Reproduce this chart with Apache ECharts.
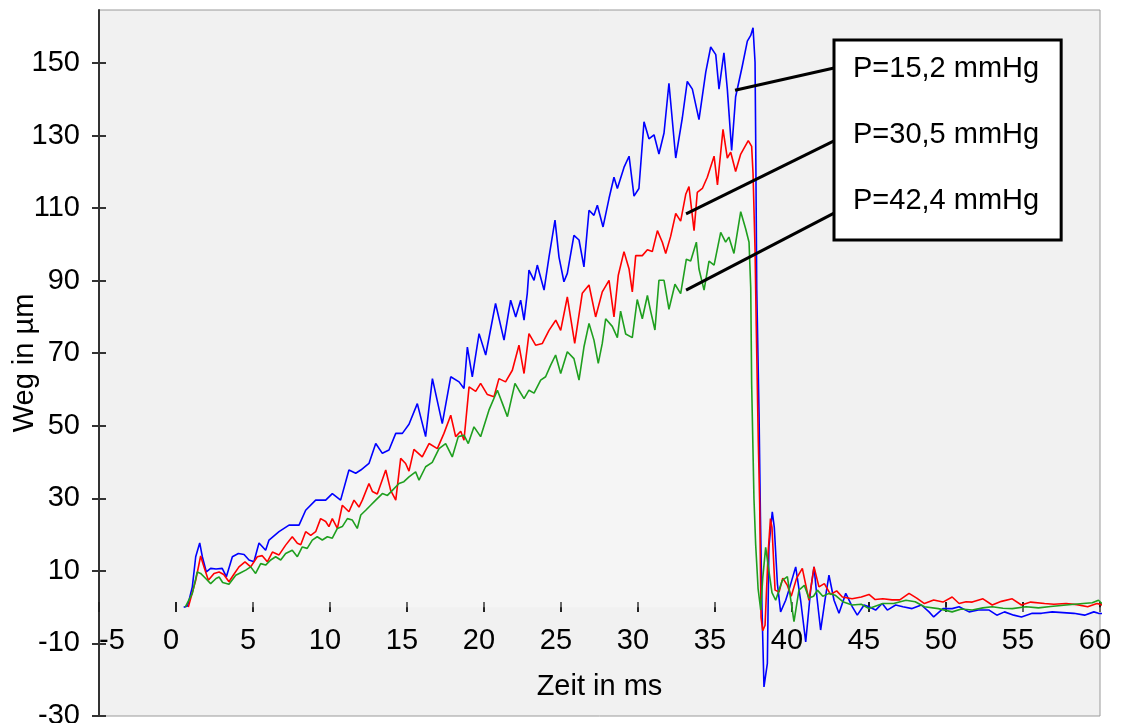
<!DOCTYPE html>
<html>
<head>
<meta charset="utf-8">
<script src="https://cdn.jsdelivr.net/npm/echarts@6/dist/echarts.min.js"></script>
<style>
  html, body { margin: 0; padding: 0; background: #fff; }
  #chart { width: 1121px; height: 723px; }
</style>
</head>
<body>
<div id="chart"></div>
<script>
// Legend names
const names = ['P=15,2 mmHg', 'P=30,5 mmHg', 'P=42,4 mmHg'];
const yTicks = [-30, -10, 10, 30, 50, 70, 90, 110, 130, 150];

// P=15,2 mmHg (blue)
const tBlue = [0.5, 0.75, 1.06, 1.28, 1.54, 1.71, 1.97, 2.25, 2.6, 3.0, 3.27, 3.66, 4.05, 4.42, 4.74, 5.06, 5.39, 5.82, 6.04, 6.69,
  7.34, 7.99, 8.42, 9.07, 9.72, 10.15, 10.69, 11.23, 11.67, 12.0, 12.53, 12.97, 13.4, 13.83, 14.27, 14.7, 15.13, 15.67, 16.21, 16.65,
  17.29, 17.84, 18.38, 18.7, 18.92, 19.24, 19.68, 20.11, 20.75, 21.3, 21.73, 22.06, 22.38, 22.6, 22.81, 22.92, 23.25, 23.46, 23.9, 24.22,
  24.61, 24.87, 25.19, 25.41, 25.84, 26.17, 26.49, 26.82, 27.14, 27.36, 27.73, 28.12, 28.44, 28.66, 29.09, 29.42, 29.74, 30.06, 30.39, 30.71,
  31.04, 31.36, 31.69, 32.01, 32.45, 32.88, 33.2, 33.53, 33.96, 34.4, 34.72, 35.05, 35.26, 35.58, 35.8, 36.08, 36.34, 36.77, 37.1, 37.32,
  37.47, 37.6, 37.64, 37.71, 37.86, 37.95, 38.05, 38.18, 38.4, 38.5, 38.72, 38.85, 39.05, 39.26, 39.59, 39.8, 40.24, 40.56, 40.89, 41.21,
  41.43, 41.64, 41.86, 42.14, 42.4, 42.73, 43.05, 43.49, 43.92, 44.24, 44.68, 45.0, 45.43, 45.86, 46.19, 46.73, 47.2, 47.8, 48.4, 48.9,
  49.2, 49.8, 50.4, 50.85, 51.5, 52.1, 52.8, 53.3, 53.8, 54.4, 54.9, 55.6, 56.2, 56.9, 57.6, 58.3, 59.0, 59.6, 59.9, 60.5];
const wBlue = [0, 0.3, 5.6, 13.9, 17.7, 13.9, 9.7, 10.7, 10.5, 10.7, 8.4, 13.9, 14.8, 14.5, 13.0, 12.5, 17.7, 15.7, 18.5, 20.8,
  22.6, 22.6, 26.7, 29.5, 29.5, 31.3, 29.5, 37.8, 36.9, 37.8, 39.6, 45.1, 42.4, 43.3, 47.9, 47.9, 50.4, 56.1, 47.0, 63.0,
  50.6, 63.5, 62.1, 60.3, 71.7, 63.5, 75.4, 69.5, 83.7, 73.6, 84.6, 80.0, 84.6, 79.1, 86.5, 92.9, 90.1, 94.3, 87.4, 96.5,
  106.7, 96.5, 89.7, 92.0, 102.5, 101.2, 93.8, 109.4, 108.0, 110.8, 104.8, 112.7, 118.5, 115.4, 121.2, 124.3, 113.3, 115.4, 133.8, 129.1,
  130.2, 124.9, 130.7, 144.4, 123.8, 134.9, 144.9, 142.8, 134.4, 147.5, 154.4, 152.3, 142.8, 152.8, 142.8, 125.9, 140.7, 149.1, 156.0, 157.6,
  159.7, 150.2, 130.2, 88, 53.1, 25, 0, -22, -15.5, 16.6, 26.3, 22, 6.5, -1.3, 1.9, 4.7, 11.1, 1.9, -9.6, 4.7,
  11.1, 1.9, -6.3, 1.9, 8.8, 1.9, -1.7, 3.8, 0.1, -2.2, 0.6, 0.1, -0.8, 1.0, -0.8, 0.6, 0.1, -0.4, 0.6, -1.3,
  -2.7, -0.4, -0.4, 0.1, -1.3, -0.8, -0.8, -2.2, -1.3, -2.2, -2.7, -1.7, -1.7, -1.3, -1.5, -1.7, -2.2, -1.3, -1.7, -1.8];

// P=30,5 mmHg (red)
const tRed = [0.8, 0.84, 1.28, 1.6, 1.82, 2.1, 2.47, 2.8, 3.1, 3.44, 3.75, 4.09, 4.48, 4.85, 5.28, 5.6, 5.93, 6.26, 6.69, 7.12,
  7.55, 7.88, 8.1, 8.42, 8.75, 9.07, 9.39, 9.72, 9.93, 10.15, 10.48, 10.8, 11.23, 11.56, 11.88, 12.1, 12.53, 12.75, 13.07, 13.62,
  13.94, 14.27, 14.59, 14.91, 15.13, 15.45, 15.99, 16.43, 16.97, 17.4, 17.84, 18.16, 18.49, 18.7, 19.03, 19.46, 19.78, 20.22, 20.65, 20.97,
  21.4, 21.84, 22.27, 22.6, 22.92, 23.35, 23.79, 24.22, 24.66, 24.98, 25.41, 25.89, 26.38, 26.82, 27.25, 27.68, 28.12, 28.44, 28.72, 29.09,
  29.42, 29.63, 29.85, 30.28, 30.61, 30.93, 31.26, 31.58, 31.8, 32.12, 32.45, 32.77, 33.1, 33.31, 33.64, 33.85, 34.18, 34.5, 34.94, 35.16,
  35.52, 35.8, 36.02, 36.34, 36.67, 37.16, 37.38, 37.47, 37.6, 37.68, 37.81, 37.9, 37.99, 38.1, 38.25, 38.45, 38.6, 38.7, 38.9, 39.16,
  39.4, 39.7, 39.95, 40.3, 40.67, 41.1, 41.43, 41.75, 42.1, 42.5, 42.9, 43.27, 43.9, 44.5, 45.0, 45.4, 45.9, 46.5, 47.0, 47.6,
  48.1, 48.6, 49.2, 49.8, 50.4, 50.85, 51.3, 51.7, 52.4, 53.0, 53.6, 54.3, 54.9, 55.5, 56.4, 57.0, 57.8, 58.5, 59.2, 59.8, 60.1, 60.5];
const wRed = [0, 0.5, 7.4, 14.1, 11.1, 7.4, 9.3, 9.7, 9.0, 7.0, 9.0, 11.1, 12.5, 11.1, 13.9, 14.2, 12.5, 15.2, 14.4, 17.1,
  19.4, 17.6, 17.2, 20.8, 19.8, 20.8, 24.4, 23.6, 22.2, 24.4, 21.7, 28.1, 26.3, 29.5, 27.6, 29.5, 34.1, 31.9, 31.2, 37.8,
  32.2, 29.5, 41.0, 39.6, 37.5, 43.5, 41.4, 45.1, 43.7, 47.9, 52.9, 47.0, 48.5, 46.0, 60.7, 59.5, 61.7, 58.6, 58.0, 63.0,
  62.1, 65.3, 72.2, 64.4, 75.4, 72.2, 72.7, 76.3, 79.1, 76.3, 85.5, 72.7, 86.5, 88.8, 80.0, 86.9, 90.1, 80.0, 91.5, 98.0,
  93.2, 86.9, 96.9, 96.9, 98.5, 98.0, 103.8, 100.6, 97.5, 102.2, 108.5, 106.4, 113.8, 115.9, 103.8, 114.3, 115.4, 118.5, 124.3, 116.4,
  131.7, 123.8, 125.4, 120.1, 124.9, 128.6, 127.0, 119.6, 98.5, 77.4, 45.8, 28.9, -2.8, -6.5, -5, 15, 24.4, 22, 4.7, 4.2,
  8, 6, 3.0, 8, 10.7, 1.9, 11.1, 5.6, 6.5, 3.5, 4.5, 2.8, 2.3, 2.8, 3.5, 2.1, 2.3, 2.0, 2.0, 3.8,
  2.5, 1.0, 2.0, 1.4, 2.8, 1.0, 1.5, 1.4, 2.3, 0.6, 1.6, 2.3, 0.6, 1.4, 1.0, 0.8, 1.0, 0.7, 0.1, 1.0, 0.7, -0.5];

// P=42,4 mmHg (green)
const tGreen = [0.6, 0.63, 1.06, 1.38, 1.6, 1.93, 2.25, 2.6, 2.8, 3.03, 3.44, 3.88, 4.2, 4.53, 4.85, 5.17, 5.5, 5.82, 6.15, 6.47,
  6.8, 7.12, 7.55, 7.88, 8.2, 8.52, 8.85, 9.17, 9.5, 9.83, 10.15, 10.48, 10.8, 11.13, 11.45, 11.77, 12.0, 12.32, 12.64, 12.97,
  13.4, 13.73, 14.05, 14.48, 14.8, 15.13, 15.56, 15.78, 16.21, 16.64, 17.08, 17.51, 17.94, 18.33, 18.7, 18.98, 19.35, 19.78, 20.32, 20.87,
  21.2, 21.52, 22.01, 22.27, 22.6, 22.92, 23.25, 23.68, 24.0, 24.33, 24.65, 24.98, 25.41, 25.84, 26.17, 26.49, 26.82, 27.14, 27.42, 27.68,
  27.9, 28.33, 28.66, 28.87, 29.2, 29.63, 29.95, 30.28, 30.61, 30.82, 31.1, 31.36, 31.69, 32.01, 32.4, 32.77, 33.14, 33.42, 33.79, 33.96,
  34.29, 34.61, 34.94, 35.37, 35.69, 35.9, 36.23, 36.67, 36.99, 37.21, 37.32, 37.38, 37.53, 37.64, 37.8, 37.97, 38.1, 38.29, 38.5, 38.7,
  38.94, 39.37, 39.7, 40.13, 40.45, 40.8, 41.1, 41.4, 41.65, 42.0, 42.4, 42.8, 43.3, 43.9, 44.5, 45.0, 45.9, 46.6, 47.4, 48.0,
  48.6, 49.5, 50.4, 51.0, 51.7, 52.4, 53.0, 53.7, 54.3, 55.2, 56.0, 56.8, 57.8, 58.9, 59.5, 59.9, 60.5];
const wGreen = [0, 0.4, 3.8, 9.7, 9.3, 7.9, 6.5, 7.9, 8.3, 6.8, 6.3, 8.8, 9.5, 10.2, 11.1, 9.3, 12.0, 11.6, 13.0, 13.9,
  13.0, 14.8, 15.7, 13.9, 16.6, 16.2, 18.5, 19.4, 18.5, 19.4, 19.0, 21.7, 22.2, 24.4, 24.0, 21.7, 25.4, 26.7, 28.1, 29.5,
  31.3, 30.8, 32.2, 34.1, 34.6, 35.9, 37.3, 35.0, 38.7, 39.9, 43.7, 45.1, 41.4, 47.0, 47.4, 45.1, 49.7, 47.0, 54.3, 59.8,
  56.1, 52.5, 61.7, 59.8, 57.5, 59.8, 59.0, 62.6, 63.5, 66.7, 69.5, 64.4, 70.4, 68.5, 62.6, 71.7, 78.2, 73.6, 67.2, 72.7,
  79.5, 77.4, 74.3, 81.6, 75.3, 74.3, 84.8, 79.5, 85.9, 81.6, 76.4, 90.1, 90.1, 82.1, 89.0, 86.4, 95.9, 95.4, 100.6, 93.2,
  87.4, 95.4, 94.3, 103.3, 100.6, 102.0, 97.5, 109.0, 104.3, 100.6, 88, 61.6, 29.9, 17.3, 5, -0.8, 8, 16.5, 10, 4,
  1.9, 7.4, 8.4, -4.0, 4.7, 6, 2.5, 3.0, 4.7, 3.0, 3.8, 3.3, 1.5, 0.6, 0.8, -0.4, 1.0, 1.0, 1.9, 1.5,
  0.1, -0.4, -1.3, -0.5, -0.8, -0.2, 0.1, -0.3, -0.4, 0.1, -0.2, 0.2, 0.6, 1.0, 1.2, 1.9, -0.4];

// leader lines from the legend box to the curves (data coords)
const leaderFrom = [[42.73, 148.6], [42.73, 128.5], [42.73, 108.6]];
const leaderTo = [[36.3, 142.5], [33.12, 108.4], [33.12, 87.4]];

const colors = ['#0000ff', '#ff0000', '#1f9f1f'];
const font = "'Liberation Sans', Arial, sans-serif";
const fs = 29;

const zip = (xs, ys) => xs.map((x, i) => [x, ys[i]]);
const seriesData = [zip(tBlue, wBlue), zip(tRed, wRed), zip(tGreen, wGreen)];

const chart = echarts.init(document.getElementById('chart'));

// plot box: y -30..164.6 over 706px, so y=0 sits 109px above the bottom edge
const zeroFromBottom = 109;
const zeroFromTop = 597;

const option = {
    animation: false,
    textStyle: {fontFamily: font},
    grid: {
        left: 99,
        right: 21,
        top: 10,
        bottom: 7,
        containLabel: false,
        outerBoundsMode: 'none',
        show: true,
        backgroundColor: '#f1f1f1',
        borderColor: '#9a9a9a',
        borderWidth: 1
    },
    legend: {
        data: names,
        orient: 'vertical',
        left: 834,
        top: 40,
        icon: 'none',
        itemWidth: 0,
        itemHeight: 30,
        itemGap: 36,
        padding: [14, 22, 24, 14],
        backgroundColor: '#fff',
        borderColor: '#000',
        borderWidth: 3,
        selectedMode: false,
        textStyle: {fontSize: fs, color: '#000', fontFamily: font, lineHeight: 30}
    },
    xAxis: [{
        type: 'value',
        min: -5,
        max: 60,
        interval: 5,
        position: 'bottom',
        offset: -zeroFromBottom,
        name: 'Zeit in ms',
        nameLocation: 'middle',
        nameGap: 65,
        nameMoveOverlap: false,
        nameTextStyle: {fontSize: fs, color: '#000', fontFamily: font},
        axisLine: {show: false, onZero: false},
        axisTick: {show: true, length: 5, lineStyle: {color: '#222', width: 2}},
        axisLabel: {fontSize: fs, color: '#000', fontFamily: font, margin: 19, padding: [0, 10, 0, 0], alignMinLabel: 'left'},
        splitLine: {show: false}
    }, {
        type: 'value',
        min: -5,
        max: 60,
        interval: 5,
        position: 'top',
        offset: -zeroFromTop,
        axisLine: {show: false, onZero: false},
        axisTick: {show: true, length: 5, lineStyle: {color: '#222', width: 2}},
        axisLabel: {show: false},
        splitLine: {show: false}
    }],
    yAxis: [{
        type: 'value',
        min: -30,
        max: 164.6,
        position: 'left',
        name: 'Weg in µm',
        nameLocation: 'middle',
        nameGap: 60,
        nameMoveOverlap: false,
        nameTextStyle: {fontSize: fs, color: '#000', fontFamily: font},
        axisLine: {show: true, onZero: false, lineStyle: {color: '#333', width: 2}},
        axisTick: {show: true, length: 7, customValues: yTicks, lineStyle: {color: '#333', width: 2}},
        axisLabel: {customValues: yTicks, fontSize: fs, color: '#000', fontFamily: font, margin: 19},
        splitLine: {show: false}
    }, {
        type: 'value',
        min: -30,
        max: 164.6,
        position: 'right',
        offset: -1001,
        axisLine: {show: false, onZero: false},
        axisTick: {show: true, length: 7, customValues: yTicks, lineStyle: {color: '#333', width: 2}},
        axisLabel: {show: false},
        splitLine: {show: false}
    }],
    series: names.map((name, i) => ({
        name: name,
        type: 'line',
        data: seriesData[i],
        showSymbol: false,
        clip: false,
        color: colors[i],
        lineStyle: {color: colors[i], width: 1.6},
        // faint lighter band under the top trace, as in the scan
        areaStyle: i === 0 ? {color: 'rgba(255,255,255,0.45)', origin: 0} : undefined,
        markLine: {
            silent: true,
            symbol: 'none',
            label: {show: false},
            lineStyle: {color: '#000', width: 3, type: 'solid'},
            data: [[{coord: leaderFrom[i]}, {coord: leaderTo[i]}]]
        }
    }))
};

chart.setOption(option);
</script>
</body>
</html>
